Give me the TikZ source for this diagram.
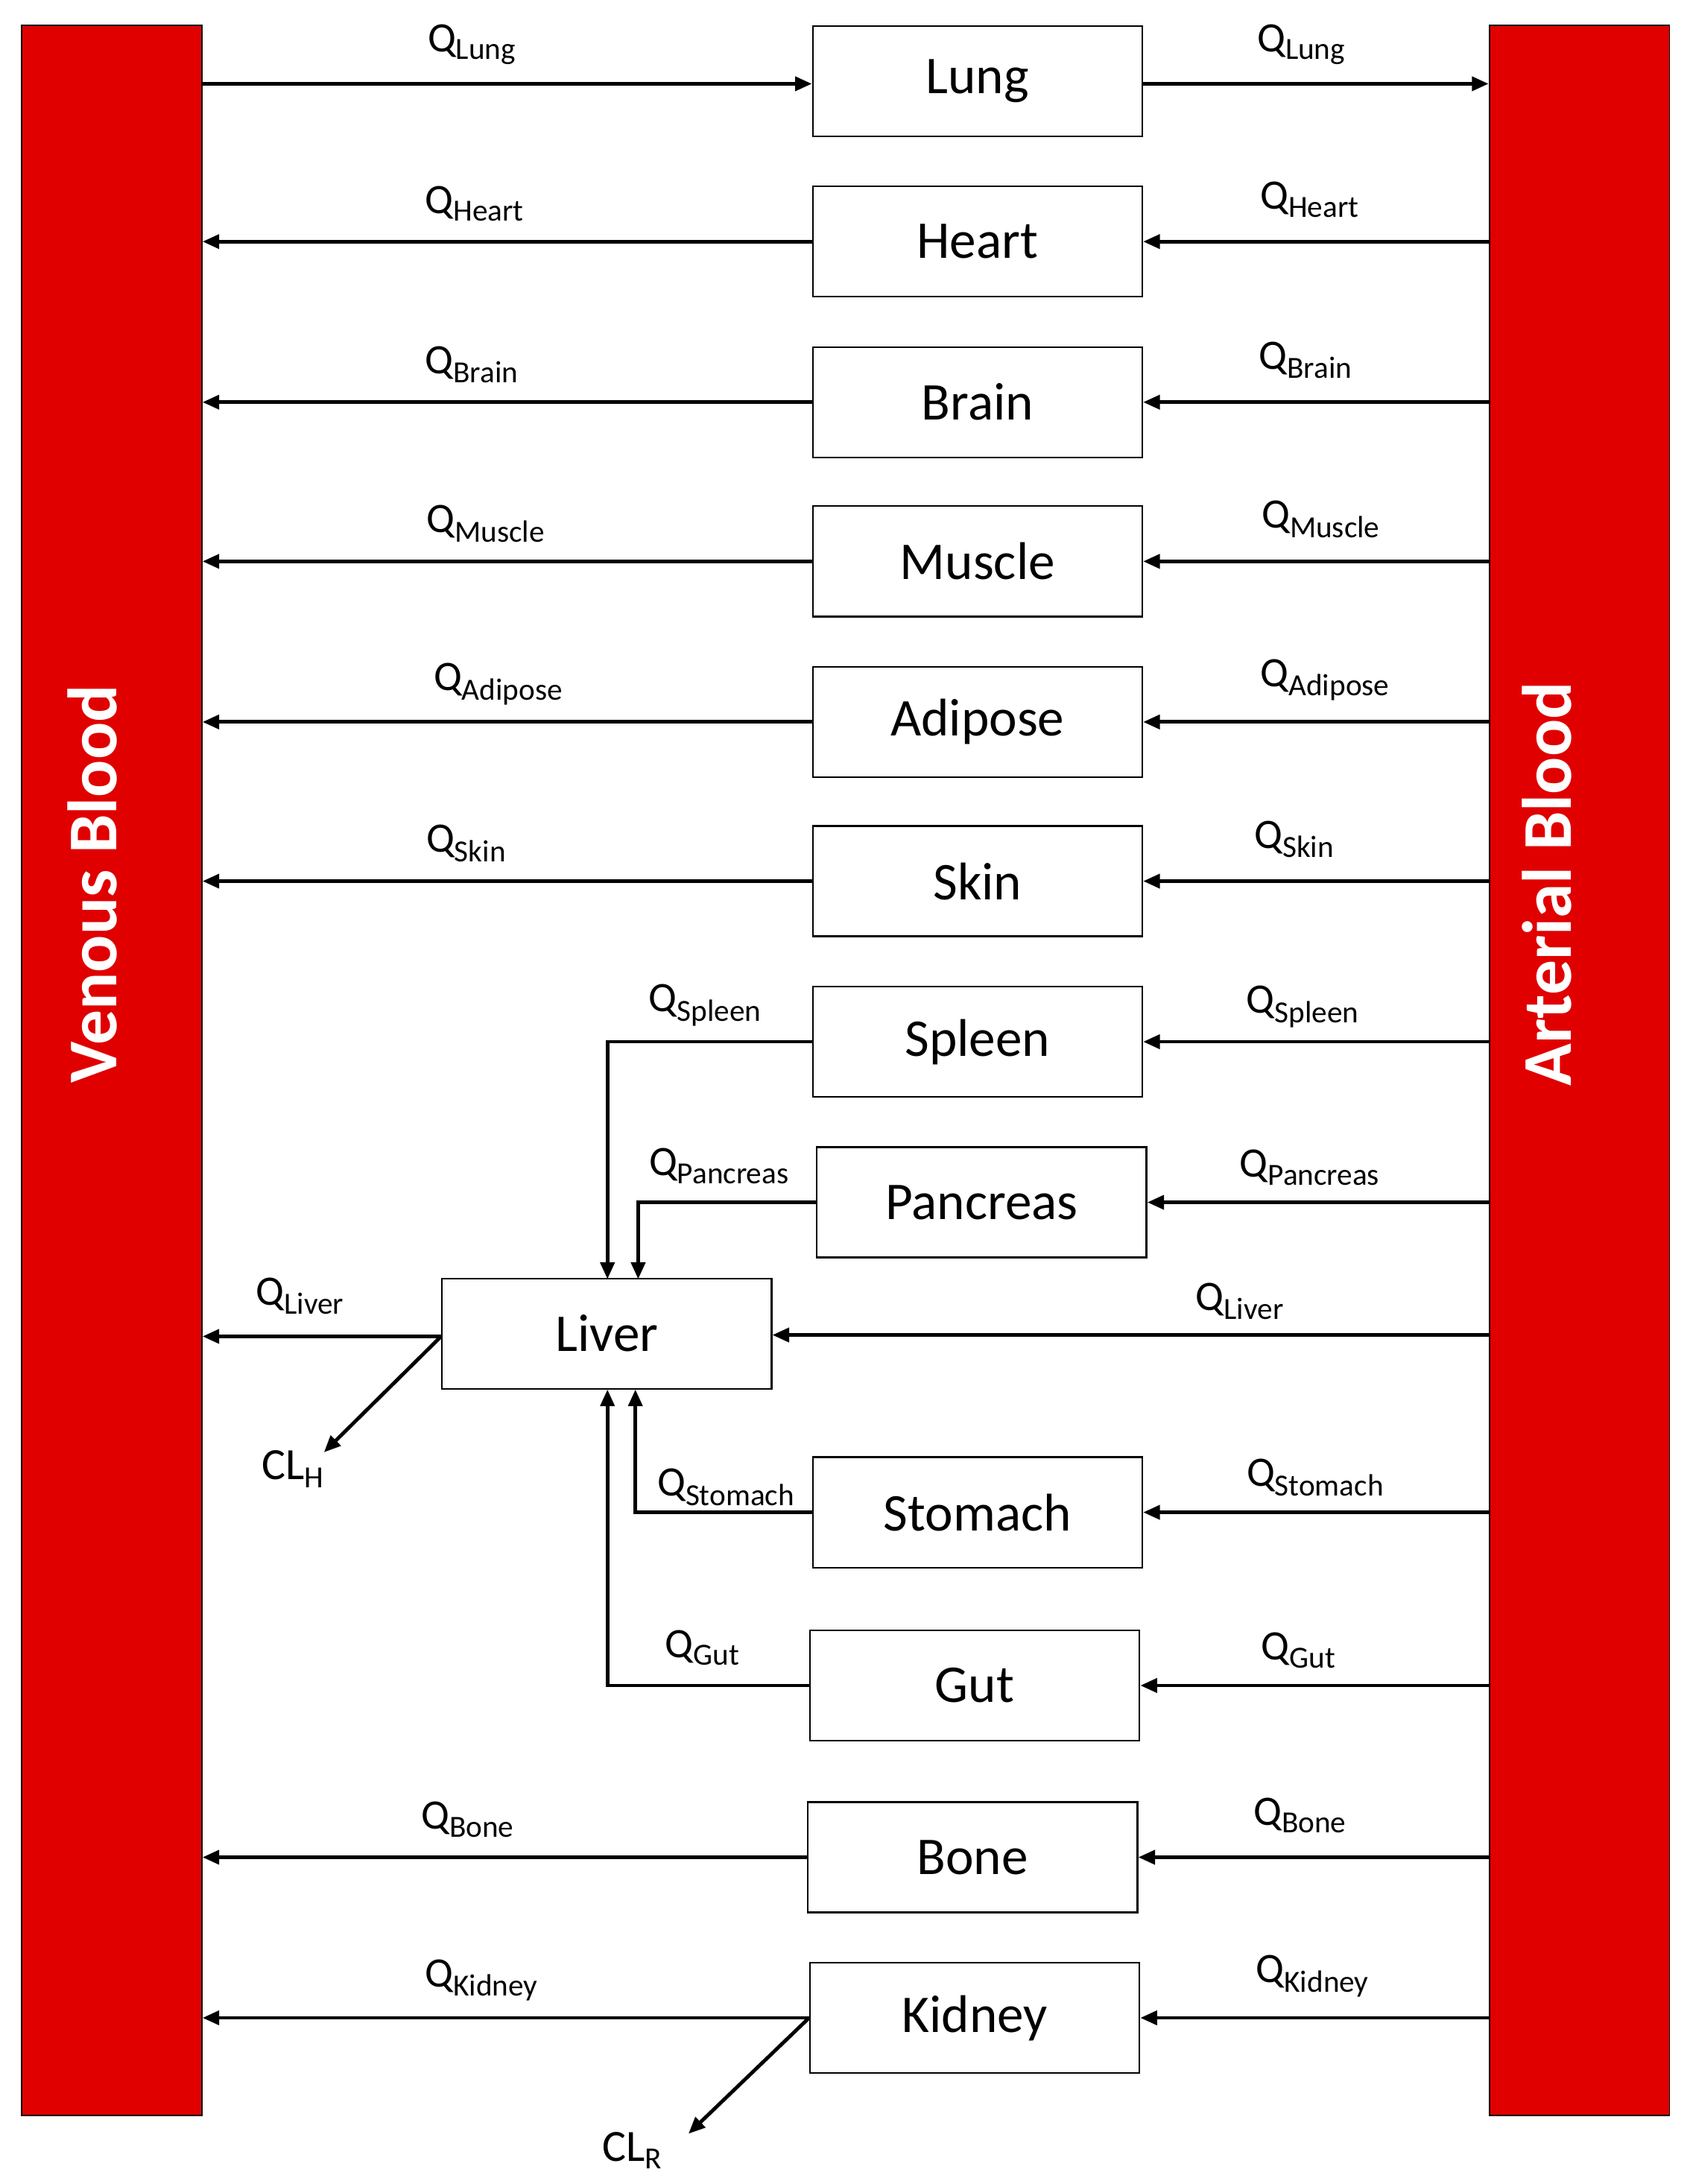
\documentclass[tikz,border=0pt]{standalone}
\usepackage{fontspec}
\setmainfont{Carlito}
\usetikzlibrary{arrows.meta}
\definecolor{bred}{HTML}{E00000}
\begin{document}
\begin{tikzpicture}[x=1pt,y=-1pt,
  organ/.style={draw,line width=1.2pt,minimum width=236pt,minimum height=79pt,inner sep=0pt,font=\fontsize{38}{40}\selectfont},
  bar/.style={draw=black,line width=1pt,fill=bred,minimum width=129pt,minimum height=1497pt,inner sep=0pt},
  bartext/.style={text=white,font=\fontsize{50}{52}\selectfont\bfseries,rotate=90},
  flow/.style={line width=2.6pt,-{Triangle[length=12pt,width=10pt]}},
  q/.style={font=\fontsize{30}{32}\selectfont,inner sep=0pt}]
\useasboundingbox (0,0) rectangle (1210,1564);
\newcommand{\Q}[1]{Q\textsubscript{\fontsize{22}{24}\selectfont #1}}
\node[bar] (ven) at (80,766.5) {};
\node[bar] (art) at (1131,766.5) {};
\node[bartext] at (66,633) {Venous Blood};
\node[bartext] at (1108,633) {Arterial Blood};
\node[organ] (lung) at (700,58) {Lung};
\node[organ] (heart) at (700,173) {Heart};
\node[organ] (brain) at (700,288) {Brain};
\node[organ] (muscle) at (700,402) {Muscle};
\node[organ] (adipose) at (700,517) {Adipose};
\node[organ] (skin) at (700,631) {Skin};
\node[organ] (spleen) at (700,746) {Spleen};
\node[organ] (pancreas) at (703,861) {Pancreas};
\node[organ] (liver) at (434.5,955) {Liver};
\node[organ] (stomach) at (700,1083) {Stomach};
\node[organ] (gut) at (698,1207) {Gut};
\node[organ] (bone) at (696.5,1330) {Bone};
\node[organ] (kidney) at (698,1445) {Kidney};
% lung
\draw[flow] (ven.east |- 0,60) -- (lung.west |- 0,60);
\draw[flow] (lung.east |- 0,60) -- (art.west |- 0,60);
\node[q] at (338,32) {\Q{Lung}};
\node[q] at (932,32) {\Q{Lung}};
% standard organs
\foreach \o/\n/\y/\lx/\rx in {heart/Heart/173/340/938, brain/Brain/288/338/935, muscle/Muscle/402/348/946, adipose/Adipose/517/357/949, skin/Skin/631/334/927, bone/Bone/1330/335/931, kidney/Kidney/1445/345/940}{
  \draw[flow] (art.west |- 0,\y) -- (\o.east |- 0,\y);
  \draw[flow] (\o.west |- 0,\y) -- (ven.east |- 0,\y);
  \node[q] at (\lx,\y-27) {\Q{\n}};
  \node[q] at (\rx,\y-30) {\Q{\n}};
}
% splanchnic
\foreach \o/\n/\y/\rx in {spleen/Spleen/746/933, pancreas/Pancreas/861/938, stomach/Stomach/1083/942, gut/Gut/1207/930}{
  \draw[flow] (art.west |- 0,\y) -- (\o.east |- 0,\y);
  \node[q] at (\rx,\y-25) {\Q{\n}};
}
\coordinate (lt1) at (435,916);
\coordinate (lt2) at (457,916);
\coordinate (lb1) at (435,995);
\coordinate (lb2) at (455,995);
\draw[flow] (spleen.west) -| (lt1);
\draw[flow] (pancreas.west) -| (lt2);
\draw[flow] (stomach.west) -| (lb2);
\draw[flow] (gut.west) -| (lb1);
\node[q] at (505,720) {\Q{Spleen}};
\node[q] at (515,835) {\Q{Pancreas}};
\node[q] at (520,1065) {\Q{Stomach}};
\node[q] at (503,1180) {\Q{Gut}};
% liver
\draw[flow] (art.west |- 0,956) -- (liver.east |- 0,956);
\draw[flow] (liver.west |- 0,957) -- (ven.east |- 0,957);
\node[q] at (215,928) {\Q{Liver}};
\node[q] at (888,932) {\Q{Liver}};
\coordinate (clh) at (232,1040);
\draw[flow] (liver.west |- 0,957) -- (clh);
\node[font=\fontsize{32}{34}\selectfont] at (210,1052) {CL\textsubscript{\fontsize{22}{24}\selectfont H}};
\coordinate (clr) at (493,1528);
\draw[flow] (kidney.west |- 0,1445) -- (clr);
\node[font=\fontsize{32}{34}\selectfont] at (453,1540) {CL\textsubscript{\fontsize{22}{24}\selectfont R}};
\end{tikzpicture}
\end{document}
